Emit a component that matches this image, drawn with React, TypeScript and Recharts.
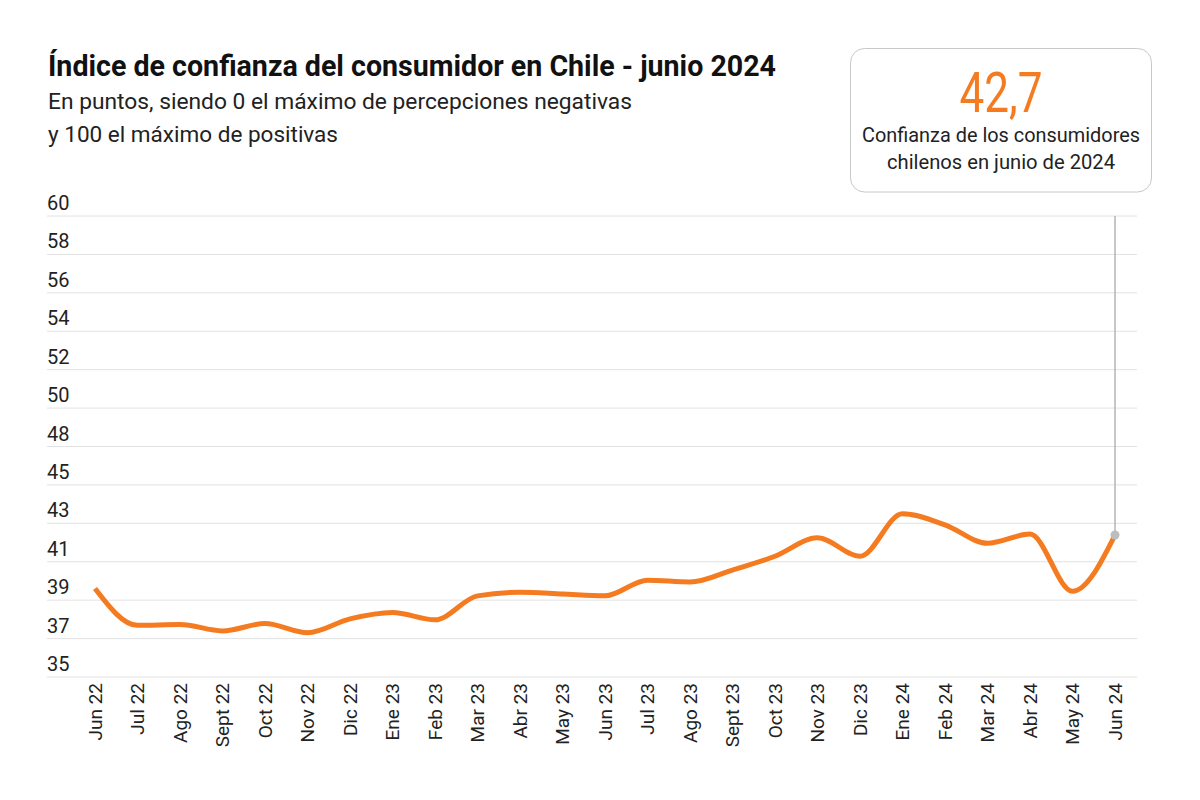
import React from 'react';
import { LineChart, Line, XAxis, YAxis, CartesianGrid } from 'recharts';

const months = [
  'Jun 22', 'Jul 22', 'Ago 22', 'Sept 22', 'Oct 22', 'Nov 22', 'Dic 22',
  'Ene 23', 'Feb 23', 'Mar 23', 'Abr 23', 'May 23', 'Jun 23', 'Jul 23',
  'Ago 23', 'Sept 23', 'Oct 23', 'Nov 23', 'Dic 23', 'Ene 24', 'Feb 24',
  'Mar 24', 'Abr 24', 'May 24', 'Jun 24',
];
const values = [
  39.8, 37.8, 37.85, 37.5, 37.9, 37.4, 38.15,
  38.5, 38.1, 39.4, 39.6, 39.5, 39.4, 40.25,
  40.15, 40.8, 41.55, 42.55, 41.55, 43.85, 43.25,
  42.25, 42.75, 39.65, 42.7,
];
const yTickLabels = ['35', '37', '39', '41', '43', '45', '48', '50', '52', '54', '56', '58', '60'];
const yMin = 35;
const yMax = 60;
const yStep = (yMax - yMin) / (yTickLabels.length - 1);
const yTicks = yTickLabels.map((_, i) => yMin + i * yStep);

const titleText = 'Índice de confianza del consumidor en Chile - junio 2024';
const subtitleLines = ['En puntos, siendo 0 el máximo de percepciones negativas', 'y 100 el máximo de positivas'];
const calloutValue = '42,7';
const calloutLines = ['Confianza de los consumidores', 'chilenos en junio de 2024'];

const data = months.map((m, i) => ({ month: m, value: values[i] }));

const ORANGE = '#f47b20';
const FONT = "Roboto, 'Noto Sans', sans-serif";
const BOX_BOTTOM = 192;

const YTick = (props: any) => {
  const { x, y, payload } = props;
  const idx = Math.round((payload.value - yMin) / yStep);
  return (
    <text x={x} y={y - 6} fill="#222" fontSize={20} fontFamily={FONT} textAnchor="start">
      {yTickLabels[idx]}
    </text>
  );
};

const XTick = (props: any) => {
  const { x, y, payload } = props;
  return (
    <text
      x={x}
      y={y}
      transform={`rotate(-90, ${x}, ${y})`}
      textAnchor="end"
      dominantBaseline="central"
      fill="#222"
      fontSize={19}
      fontFamily={FONT}
    >
      {payload.value}
    </text>
  );
};

const LastDot = (props: any) => {
  const { cx, cy, index } = props;
  if (index !== data.length - 1) return <g key={`d${index}`} />;
  return (
    <g key={`d${index}`}>
      <line x1={cx} y1={cy} x2={cx} y2={BOX_BOTTOM} stroke="#b5b5b5" strokeWidth={1.5} />
      <circle cx={cx} cy={cy} r={4.5} fill="#bdbdbd" />
    </g>
  );
};

export default function App() {
  return (
    <div style={{ position: 'absolute', left: 0, top: 0, width: 1200, height: 800, background: '#fff', fontFamily: FONT }}>
      <LineChart width={1200} height={800} data={data} margin={{ top: 216, right: 63, left: 0, bottom: 23 }}>
        <CartesianGrid vertical={false} stroke="#e2e2e2" strokeWidth={1} />
        <XAxis
          dataKey="month"
          interval={0}
          height={100}
          axisLine={false}
          tickLine={false}
          tickSize={0}
          tickMargin={6}
          padding={{ left: 48, right: 22 }}
          tick={<XTick />}
        />
        <YAxis
          domain={[yMin, yMax]}
          ticks={yTicks}
          interval={0}
          width={47}
          axisLine={false}
          tickLine={false}
          tickSize={0}
          tickMargin={0}
          tick={<YTick />}
          allowDataOverflow
        />
        <Line
          type="monotone"
          dataKey="value"
          stroke={ORANGE}
          strokeWidth={5}
          dot={LastDot}
          activeDot={false}
          isAnimationActive={false}
        />
      </LineChart>
      <svg width={1200} height={800} style={{ position: 'absolute', left: 0, top: 0, pointerEvents: 'none' }} fontFamily={FONT}>
        <text x={48} y={76} fontSize={30} fontWeight={700} fill="#111" textLength={728} lengthAdjust="spacingAndGlyphs">
          {titleText}
        </text>
        <text x={48} y={109} fontSize={22} fill="#222" textLength={584} lengthAdjust="spacingAndGlyphs">
          {subtitleLines[0]}
        </text>
        <text x={48} y={142} fontSize={22} fill="#222" textLength={290} lengthAdjust="spacingAndGlyphs">
          {subtitleLines[1]}
        </text>
        <rect x={850.5} y={48.5} width={301} height={BOX_BOTTOM - 48.5} rx={14} ry={14} fill="#fff" stroke="#c8c8c8" strokeWidth={1} />
        <text x={1001} y={112} fontSize={56} fill={ORANGE} textAnchor="middle" textLength={83} lengthAdjust="spacingAndGlyphs">
          {calloutValue}
        </text>
        <text x={1001} y={142} fontSize={20} fill="#222" textAnchor="middle" textLength={278} lengthAdjust="spacingAndGlyphs">
          {calloutLines[0]}
        </text>
        <text x={1001} y={169} fontSize={20} fill="#222" textAnchor="middle" textLength={228} lengthAdjust="spacingAndGlyphs">
          {calloutLines[1]}
        </text>
      </svg>
    </div>
  );
}
